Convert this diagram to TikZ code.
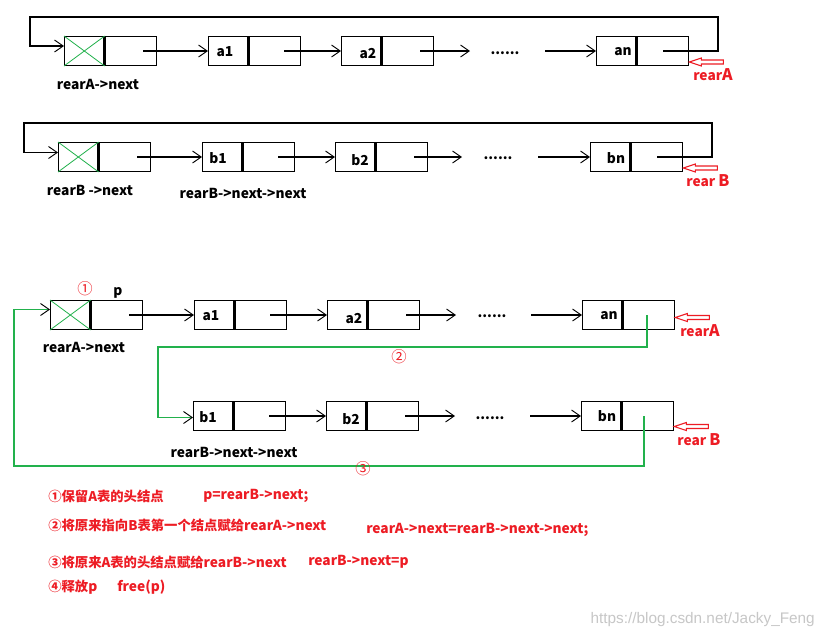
\documentclass[tikz,border=0pt]{standalone}
\usepackage{fontspec}
\setmainfont{Noto Sans CJK SC}
\newfontfamily\wmfont{Liberation Sans}
\usetikzlibrary{arrows.meta,calc}
\definecolor{pred}{RGB}{237,28,36}
\definecolor{pgreen}{RGB}{34,177,76}
\newcommand{\cjs}[1]{{\fontsize{10}{12}\selectfont #1}}
\begin{document}
\begin{tikzpicture}[x=0.75pt,y=-0.75pt,
  dat/.style={draw,line width=1pt,minimum width=29.5pt,minimum height=21.5pt,inner sep=0pt,anchor=north west},
  ptr/.style={draw,line width=1pt,minimum width=38.5pt,minimum height=21.5pt,inner sep=0pt,anchor=west},
  btxt/.style={inner sep=0pt,font=\bfseries\fontsize{10.3}{12}\selectfont},
  rtxt/.style={inner sep=0pt,text=pred,font=\bfseries\fontsize{10.3}{12}\selectfont},
  ctxt/.style={inner sep=0pt,text=pred,font=\fontsize{11.5}{13}\selectfont},
  lnk/.style={line width=0.8pt,-{Straight Barb[length=6.5pt,width=9pt,line width=0.7pt]}},
  glnk/.style={pgreen,line width=0.8pt,-{Straight Barb[length=6.5pt,width=9pt,line width=0.7pt,black]}},
  cross/.style={pgreen,line width=0.6pt},
  rptr/.pic={\draw[pred,line width=0.8pt] (0,0) -- (12,-4) -- (12,-2) -- (34,-2) -- (34,2) -- (12,2) -- (12,4) -- cycle;}
]
\fill[white] (0,0) rectangle (839,637);
\useasboundingbox (0,0) rectangle (839,637);

% ---------- Row 1: list A ----------
\node[dat] (hAd) at (64,36) {};
\node[ptr] (hAp) at (hAd.east) {};
\draw[cross] (hAd.north west) -- (hAd.south east) (hAd.south west) -- (hAd.north east);
\node[dat] (a1d) at (208,36) {};
\node[ptr] (a1p) at (a1d.east) {};
\node[dat] (a2d) at (341,36) {};
\node[ptr] (a2p) at (a2d.east) {};
\node[dat] (and) at (596,36) {};
\node[ptr] (anp) at (and.east) {};
\node[btxt] (ta1) at (225,52) {a1};
\node[btxt] (ta2) at (368,54) {a2};
\node[btxt] (tan) at (623,52) {an};
\node[btxt] (dA) at (505,53) {......};
\coordinate (eA) at (470,51);
\coordinate (sA) at (545,51);
\draw[lnk] ([xshift=9pt]hAp.center) -- (a1d.west);
\draw[lnk] ([xshift=7pt]a1p.center) -- (a2d.west);
\draw[lnk] ([xshift=9pt]a2p.center) -- (eA);
\draw[lnk] (sA) -- (and.west);
\coordinate (tA) at (718,17);
\coordinate (lA) at (30,17);
\draw[lnk] (anp.center) -| (tA) -- (lA) |- ([shift={(0,-5)}]hAd.west);
\pic at ([shift={(0,11)}]anp.east) {rptr};
\node[rtxt] (rA1) at (713,75) {rear{\fontsize{12}{13}\selectfont A}};
\node[btxt] (lA1) at (98,84) {rearA->next};

% ---------- Row 2: list B ----------
\node[dat] (hBd) at (58,142) {};
\node[ptr] (hBp) at (hBd.east) {};
\draw[cross] (hBd.north west) -- (hBd.south east) (hBd.south west) -- (hBd.north east);
\node[dat] (b1d) at (202,142) {};
\node[ptr] (b1p) at (b1d.east) {};
\node[dat] (b2d) at (335,142) {};
\node[ptr] (b2p) at (b2d.east) {};
\node[dat] (bnd) at (590,142) {};
\node[ptr] (bnp) at (bnd.east) {};
\node[btxt] (tb1) at (218,158) {b1};
\node[btxt] (tb2) at (360,160) {b2};
\node[btxt] (tbn) at (616,158) {bn};
\node[btxt] (dB) at (498,158) {......};
\coordinate (eB) at (462,157);
\coordinate (sB) at (538,157);
\draw[lnk] ([xshift=9pt]hBp.center) -- (b1d.west);
\draw[lnk] ([xshift=7pt]b1p.center) -- (b2d.west);
\draw[lnk] ([xshift=9pt]b2p.center) -- (eB);
\draw[lnk] (sB) -- (bnd.west);
\coordinate (tB) at (712,123);
\coordinate (lB) at (24,123);
\draw[lnk] (bnp.center) -| (tB) -- (lB) |- ([shift={(0,-4.5)}]hBd.west);
\pic at ([shift={(0,11)}]bnp.east) {rptr};
\node[rtxt] (rB1) at (708,181) {rear {\fontsize{12}{13}\selectfont B}};
\node[btxt] (lB1) at (90,190) {rearB ->next};
\node[btxt] (lB2) at (243,193) {rearB->next->next};

% ---------- Row 3: merged, A part ----------
\node[dat] (h3d) at (50,300) {};
\node[ptr] (h3p) at (h3d.east) {};
\draw[cross] (h3d.north west) -- (h3d.south east) (h3d.south west) -- (h3d.north east);
\node[dat] (a13d) at (194,300) {};
\node[ptr] (a13p) at (a13d.east) {};
\node[dat] (a23d) at (327,300) {};
\node[ptr] (a23p) at (a23d.east) {};
\node[dat] (an3d) at (582,300) {};
\node[ptr] (an3p) at (an3d.east) {};
\node[btxt] (t3a1) at (211,316) {a1};
\node[btxt] (t3a2) at (354,319) {a2};
\node[btxt] (t3an) at (609,316) {an};
\node[btxt] (d3) at (492,316) {......};
\node[ctxt] (c1) at (85,289) {①};
\node[btxt] (tp) at (118,293) {p};
\coordinate (e3) at (456,315);
\coordinate (s3) at (531,315);
\draw[lnk] ([xshift=9pt]h3p.center) -- (a13d.west);
\draw[lnk] ([xshift=7pt]a13p.center) -- (a23d.west);
\draw[lnk] ([xshift=9pt]a23p.center) -- (e3);
\draw[lnk] (s3) -- (an3d.west);
\pic at ([shift={(0,2.5)}]an3p.east) {rptr};
\node[rtxt] (rA3) at (700,331) {rear{\fontsize{12}{13}\selectfont A}};
\node[btxt] (l3) at (84,347) {rearA->next};

% ---------- Row 4: merged, B part ----------
\node[dat] (b14d) at (193,401) {};
\node[ptr] (b14p) at (b14d.east) {};
\node[dat] (b24d) at (326,401) {};
\node[ptr] (b24p) at (b24d.east) {};
\node[dat] (bn4d) at (581,401) {};
\node[ptr] (bn4p) at (bn4d.east) {};
\node[btxt] (t4b1) at (208,417) {b1};
\node[btxt] (t4b2) at (351,419) {b2};
\node[btxt] (t4bn) at (607,416) {bn};
\node[btxt] (d4) at (490,418) {......};
\coordinate (e4) at (455,416);
\coordinate (s4) at (530,416);
\draw[lnk] ([xshift=7pt]b14p.center) -- (b24d.west);
\draw[lnk] ([xshift=9pt]b24p.center) -- (e4);
\draw[lnk] (s4) -- (bn4d.west);
\pic at ([shift={(0,10.5)}]bn4p.east) {rptr};
\node[rtxt] (rB4) at (699,440) {rear {\fontsize{12}{13}\selectfont B}};
\node[btxt] (l4) at (234,452) {rearB->next->next};

% green re-links
\coordinate (g2) at (158,347);
\draw[glnk] ([xshift=-1.5pt]an3p.center) |- (g2) |- ([shift={(0,1.5)}]b14d.west);
\node[ctxt] (c2) at (399,357) {②};
\coordinate (g3) at (14,466);
\draw[glnk] ([xshift=-3pt]bn4p.center) |- (g3) |- ([shift={(0,-5.5)}]h3d.west);
\node[ctxt] (c3) at (363,469) {③};

% ---------- explanation ----------
\node[rtxt,anchor=west] (s1) at (48,496) {\cjs{①保留A表的头结点}};
\node[rtxt,anchor=west] (s1c) at (203,496) {p=rearB->next;};
\node[rtxt,anchor=west] (s2) at (48,525) {\cjs{②将原来指向B表第一个结点赋给}rearA->next};
\node[rtxt,anchor=west] (s2c) at (366,530) {rearA->next=rearB->next->next;};
\node[rtxt,anchor=west] (s3) at (48,562) {\cjs{③将原来A表的头结点赋给}rearB->next};
\node[rtxt,anchor=west] (s3c) at (308,562) {rearB->next=p};
\node[rtxt,anchor=west] (s4) at (48,587) {\cjs{④释放}p};
\node[rtxt,anchor=west] (s4c) at (117,587) {free(p)};
\node[inner sep=0pt,anchor=east,text=black!22,font=\wmfont\fontsize{11.5}{13}\selectfont] (wm) at (815,620) {https://blog.csdn.net/Jacky\_Feng};
\end{tikzpicture}
\end{document}
